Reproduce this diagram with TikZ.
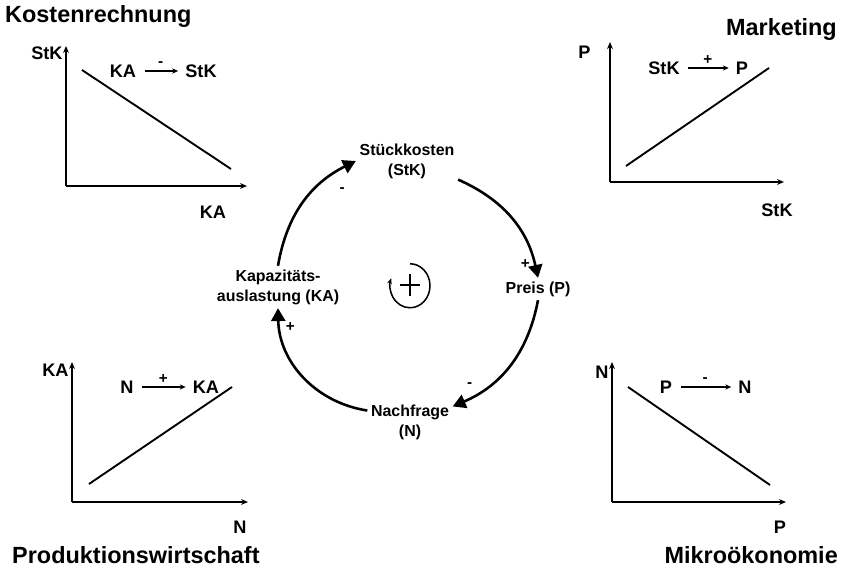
\documentclass[tikz,border=0pt]{standalone}
\usepackage{fontspec}
\setmainfont{Liberation Sans}
\usetikzlibrary{arrows.meta}
\tikzset{
  cyclearrow/.style={-{Triangle[length=11pt,width=12pt]},line width=2.2pt},
  graphaxis/.style={-{Stealth[length=6pt,width=5pt]},line width=1.4pt},
  graphline/.style={line width=1.6pt},
  relarrow/.style={-{Stealth[length=5pt,width=4.5pt]},line width=1.2pt,shorten <=4pt,shorten >=3pt},
  paneltitle/.style={font=\fontsize{20}{24}\selectfont\bfseries,inner sep=0pt},
  axislabel/.style={font=\fontsize{15.5}{18}\selectfont\bfseries,inner sep=1pt},
  relname/.style={font=\fontsize{15.5}{18}\selectfont\bfseries,inner sep=3pt},
  signlabel/.style={font=\fontsize{13}{15}\selectfont\bfseries,inner sep=0pt},
  varbox/.style={font=\fontsize{13.6}{17}\selectfont\bfseries,align=center,inner sep=3pt},
}
\begin{document}
\begin{tikzpicture}[x=.03cm,y=.03cm]
  \useasboundingbox (0,0) rectangle (844,572);

  % Kostenrechnung
  \node[paneltitle,anchor=west] (tkost) at (5,555) {Kostenrechnung};
  \coordinate (o1) at (66,386);
  \draw[graphaxis] (o1) -- ++(0,140);
  \draw[graphaxis] (o1) -- ++(181,0);
  \draw[graphline] (82,502) -- (231,403);
  \node[axislabel,anchor=east] (ky) at (64,519) {StK};
  \node[axislabel] (kx) at (213,360) {KA};
  \node[relname] (kfrom) at (123,501) {KA};
  \node[relname] (kto) at (201,501) {StK};
  \draw[relarrow] (kfrom) -- node[signlabel,above=3pt] {-} (kto);

  % Marketing
  \node[paneltitle,anchor=east] (tmark) at (837,542) {Marketing};
  \coordinate (o2) at (610,390);
  \draw[graphaxis] (o2) -- ++(0,140);
  \draw[graphaxis] (o2) -- ++(174,0);
  \draw[graphline] (626,406) -- (769,504);
  \node[axislabel,anchor=east] (my) at (592,520) {P};
  \node[axislabel] (mx) at (777,362) {StK};
  \node[relname] (mfrom) at (664,504) {StK};
  \node[relname] (mto) at (742,504) {P};
  \draw[relarrow] (mfrom) -- node[signlabel,above=2pt] {+} (mto);

  % Produktionswirtschaft
  \node[paneltitle,anchor=west] (tprod) at (12,17) {Produktionswirtschaft};
  \coordinate (o3) at (72,70);
  \draw[graphaxis] (o3) -- ++(0,140);
  \draw[graphaxis] (o3) -- ++(176,0);
  \draw[graphline] (89,88) -- (232,185);
  \node[axislabel,anchor=east] (py) at (70,202) {KA};
  \node[axislabel] (px) at (240,45) {N};
  \node[relname] (pfrom) at (127,185) {N};
  \node[relname] (pto) at (206,185) {KA};
  \draw[relarrow] (pfrom) -- node[signlabel,above=2pt] {+} (pto);

  % Mikrooekonomie
  \node[paneltitle,anchor=east] (tmikro) at (838,17) {Mikroökonomie};
  \coordinate (o4) at (612,70);
  \draw[graphaxis] (o4) -- ++(0,140);
  \draw[graphaxis] (o4) -- ++(174,0);
  \draw[graphline] (628,185) -- (770,87);
  \node[axislabel,anchor=east] (ny) at (610,200) {N};
  \node[axislabel] (nx) at (780,45) {P};
  \node[relname] (nfrom) at (666,185) {P};
  \node[relname] (nto) at (745,185) {N};
  \draw[relarrow] (nfrom) -- node[signlabel,above=3pt] {-} (nto);

  % Regelkreis
  \node[varbox] (stk) at (407,411) {Stückkosten\\(StK)};
  \node[varbox] (preis) at (538,283) {Preis (P)};
  \node[varbox] (nf) at (410,150) {Nachfrage\\(N)};
  \node[varbox] (ka) at (278,285) {Kapazitäts-\\auslastung (KA)};
  \draw[cyclearrow] (ka.north) to[bend left=27]
    node[signlabel,pos=.78,anchor=north west,inner sep=3pt,xshift=5pt,yshift=-5pt] {-} (stk.west);
  \draw[cyclearrow] (stk.-20) to[bend left=27]
    node[signlabel,pos=.9,anchor=east,inner sep=3pt] {+} (preis.north);
  \draw[cyclearrow] (preis.south) to[bend left=28]
    node[signlabel,pos=.8,anchor=south east,inner sep=3pt,xshift=-2pt] {-} (nf.20);
  \draw[cyclearrow] (nf.165) to[bend left=40]
    node[signlabel,pos=.88,anchor=west,inner sep=4pt] {+} (ka.south);

  \node[circle,minimum size=1.26cm,inner sep=0pt] (loopsym) at (410,287) {};
  \draw[line width=1.3pt,-{Stealth[length=5pt,width=4pt]}] (loopsym.north)
    arc[start angle=90,end angle=-200,x radius=20,y radius=22];
  \draw[line width=1.1pt] (loopsym.center) ++(-10,0) -- ++(20,0);
  \draw[line width=1.1pt] (loopsym.center) ++(0,-11) -- ++(0,22);
\end{tikzpicture}
\end{document}
